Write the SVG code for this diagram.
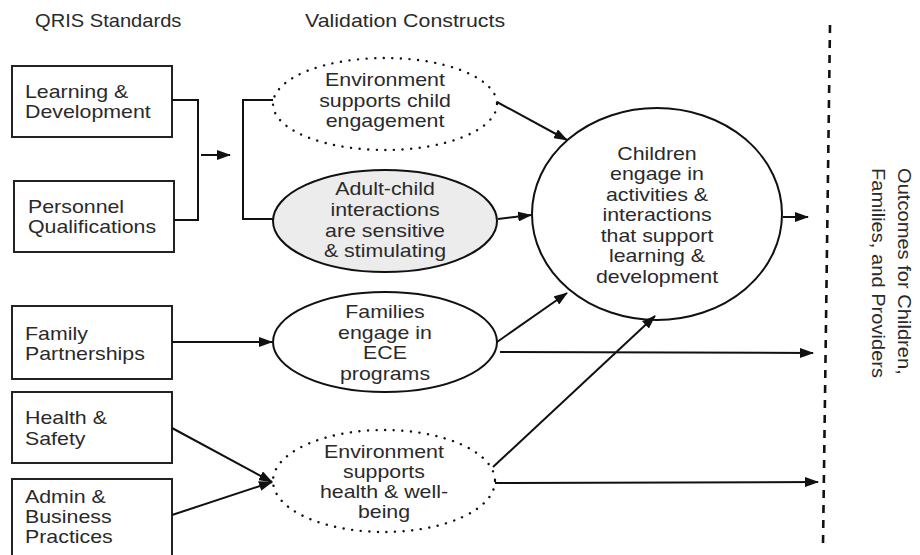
<svg xmlns="http://www.w3.org/2000/svg" width="920" height="555" viewBox="0 0 920 555">
<style>
text{font-family:"Liberation Sans",Arial,sans-serif;font-size:17.5px;fill:#2a2a2a}
.c{text-anchor:middle}
.box{fill:#fff;stroke:#222;stroke-width:2}
.ell{fill:#fff;stroke:#111;stroke-width:2}
.grey{fill:#ececec}
.dot{fill:#fff;stroke:#111;stroke-width:2.4;stroke-dasharray:0.1 8.5;stroke-linecap:round}
.ln{fill:none;stroke:#111;stroke-width:2}
</style>
<defs>
<marker id="ah" markerUnits="userSpaceOnUse" markerWidth="14" markerHeight="10" refX="13" refY="5" orient="auto">
<path d="M0,0 L14,5 L0,10 Z" fill="#111"/>
</marker>
</defs>
<rect width="920" height="555" fill="#fff"/>
<text transform="matrix(1.15 0 0 1 35 27)">QRIS Standards</text>
<text transform="matrix(1.22 0 0 1 305 27)">Validation Constructs</text>

<g id="n-learning"><rect class="box" x="12" y="66" width="160" height="71"/><text transform="matrix(1.22 0 0 1 25 98)">Learning &amp;</text><text transform="matrix(1.22 0 0 1 25 118)">Development</text></g>
<g id="n-personnel"><rect class="box" x="14" y="181" width="160" height="71"/><text transform="matrix(1.22 0 0 1 28 213)">Personnel</text><text transform="matrix(1.22 0 0 1 28 233)">Qualifications</text></g>
<g id="n-family"><rect class="box" x="12" y="306" width="160" height="73"/><text transform="matrix(1.22 0 0 1 25 340)">Family</text><text transform="matrix(1.22 0 0 1 25 360)">Partnerships</text></g>
<g id="n-health"><rect class="box" x="12" y="392" width="160" height="71"/><text transform="matrix(1.22 0 0 1 25 424)">Health &amp;</text><text transform="matrix(1.22 0 0 1 25 445)">Safety</text></g>
<g id="n-admin"><rect class="box" x="12" y="479" width="160" height="80"/><text transform="matrix(1.22 0 0 1 25 503)">Admin &amp;</text><text transform="matrix(1.22 0 0 1 25 523)">Business</text><text transform="matrix(1.22 0 0 1 25 543)">Practices</text></g>

<g id="n-env-child"><ellipse class="dot" cx="385" cy="104" rx="112" ry="46"/><text class="c" transform="matrix(1.22 0 0 1 385 86)">Environment</text><text class="c" transform="matrix(1.22 0 0 1 385 107)">supports child</text><text class="c" transform="matrix(1.22 0 0 1 385 127)">engagement</text></g>
<g id="n-adult"><ellipse class="ell grey" cx="385" cy="221" rx="112" ry="51"/><text class="c" transform="matrix(1.22 0 0 1 385 195)">Adult-child</text><text class="c" transform="matrix(1.22 0 0 1 385 216)">interactions</text><text class="c" transform="matrix(1.22 0 0 1 385 237)">are sensitive</text><text class="c" transform="matrix(1.22 0 0 1 385 257)">&amp; stimulating</text></g>
<g id="n-families"><ellipse class="ell" cx="385" cy="342" rx="112" ry="50"/><text class="c" transform="matrix(1.22 0 0 1 385 318)">Families</text><text class="c" transform="matrix(1.22 0 0 1 385 339)">engage in</text><text class="c" transform="matrix(1.22 0 0 1 385 359)">ECE</text><text class="c" transform="matrix(1.22 0 0 1 385 380)">programs</text></g>
<g id="n-env-health"><ellipse class="dot" cx="384" cy="481" rx="111" ry="51"/><text class="c" transform="matrix(1.22 0 0 1 384 458)">Environment</text><text class="c" transform="matrix(1.22 0 0 1 384 478)">supports</text><text class="c" transform="matrix(1.22 0 0 1 384 498)">health &amp; well-</text><text class="c" transform="matrix(1.22 0 0 1 384 518)">being</text></g>
<g id="n-children"><ellipse class="ell" cx="657" cy="214" rx="125" ry="106"/><text class="c" transform="matrix(1.22 0 0 1 657 160)">Children</text><text class="c" transform="matrix(1.22 0 0 1 657 180)">engage in</text><text class="c" transform="matrix(1.22 0 0 1 657 201)">activities &amp;</text><text class="c" transform="matrix(1.22 0 0 1 657 221)">interactions</text><text class="c" transform="matrix(1.22 0 0 1 657 242)">that support</text><text class="c" transform="matrix(1.22 0 0 1 657 262)">learning &amp;</text><text class="c" transform="matrix(1.22 0 0 1 657 283)">development</text></g>

<g id="n-outcomes"><line x1="830" y1="25" x2="823" y2="545" stroke="#111" stroke-width="2.6" stroke-dasharray="8 7"/><text transform="translate(898,168) rotate(90) scale(1.15,1)" font-size="18.5">Outcomes for Children,</text><text transform="translate(872,168) rotate(90) scale(1.15,1)" font-size="18.5">Families, and Providers</text></g>

<g id="connectors">
<polyline class="ln" points="172,100 198,100 198,220 174,220"/>
<line class="ln" x1="201" y1="155" x2="230" y2="155" marker-end="url(#ah)"/>
<polyline class="ln" points="273,100 243,100 243,219 273,219"/>
<line class="ln" x1="497" y1="102" x2="567" y2="140" marker-end="url(#ah)"/>
<line class="ln" x1="498" y1="219" x2="531" y2="215" marker-end="url(#ah)"/>
<line class="ln" x1="497" y1="342" x2="567" y2="293" marker-end="url(#ah)"/>
<line class="ln" x1="500" y1="352" x2="813" y2="353" marker-end="url(#ah)"/>
<line class="ln" x1="493" y1="467" x2="655" y2="316" marker-end="url(#ah)"/>
<line class="ln" x1="495" y1="483" x2="818" y2="482" marker-end="url(#ah)"/>
<line class="ln" x1="783" y1="217" x2="808" y2="217" marker-end="url(#ah)"/>
<line class="ln" x1="172" y1="342" x2="272" y2="342" marker-end="url(#ah)"/>
<line class="ln" x1="172" y1="428" x2="272" y2="482" marker-end="url(#ah)"/>
<line class="ln" x1="172" y1="515" x2="272" y2="482" marker-end="url(#ah)"/>
</g>
</svg>
